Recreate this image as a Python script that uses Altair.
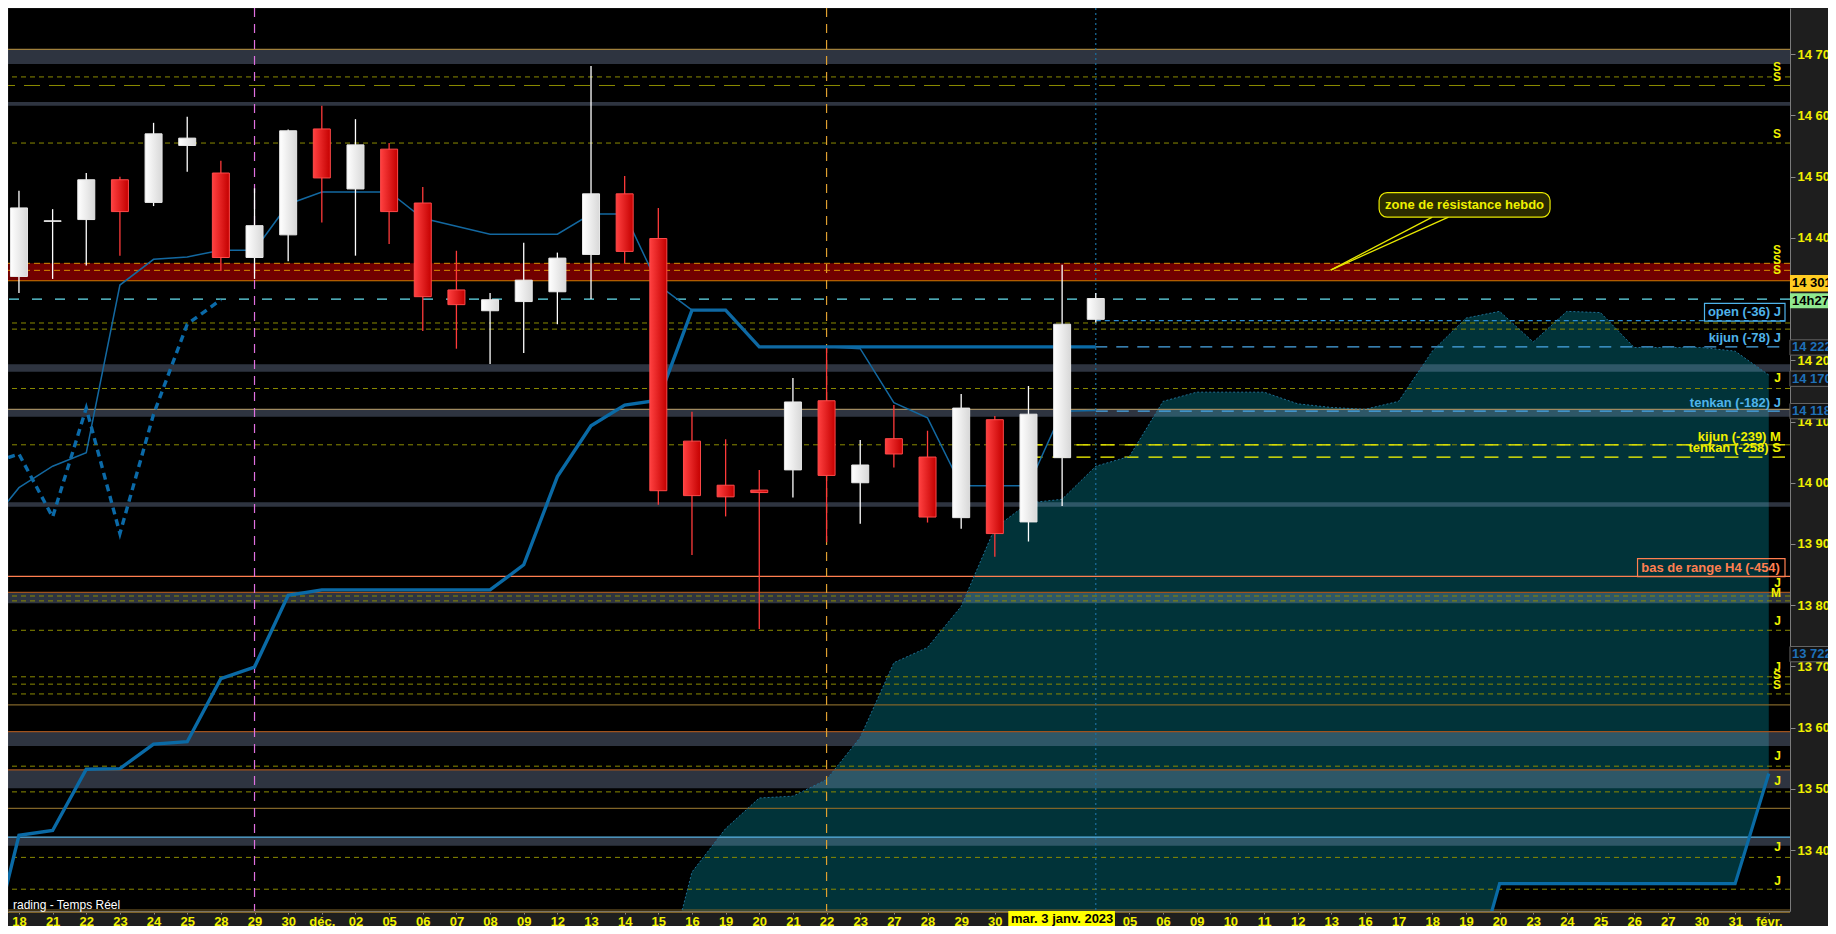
import json
import altair as alt
import pandas as pd

FONT = "Liberation Sans"

# ---------------- daily candles (index 0 = 18 nov.) ----------------
cd_open = [14337, 14427, 14430, 14495, 14458, 14551, 14506, 14368, 14405, 14578, 14480,
           14545, 14457, 14315, 14281, 14296, 14312, 14373, 14472, 14399, 14068, 13996,
           13988, 14021, 14134, 14000, 14072, 14042, 13943, 14103, 13936, 14041, 14267]
cd_high = [14477, 14447, 14506, 14500, 14588, 14598, 14526, 14481, 14577, 14616, 14594,
           14555, 14483, 14379, 14310, 14392, 14376, 14681, 14501, 14449, 14116, 14071,
           14021, 14171, 14220, 14070, 14127, 14085, 14145, 14109, 14158, 14356, 14310]
cd_low = [14310, 14333, 14355, 14371, 14452, 14508, 14346, 14333, 14362, 14425, 14371,
          14390, 14248, 14219, 14194, 14212, 14259, 14300, 14359, 13964, 13882, 13945,
          13761, 13976, 13903, 13933, 14025, 13935, 13925, 13879, 13904, 13962, 14262]
cd_close = [14449, 14428, 14495, 14443, 14570, 14563, 14368, 14420, 14575, 14498, 14552,
            14443, 14304, 14291, 14299, 14331, 14367, 14472, 14378, 13987, 13979, 13977,
            13984, 14132, 14012, 14029, 14047, 13944, 14122, 13917, 14112, 14259, 14301]

x_labels = ["18", "21", "22", "23", "24", "25", "28", "29", "30", "déc.",
            "02", "05", "06", "07", "08", "09", "12", "13", "14", "15",
            "16", "19", "20", "21", "22", "23", "27", "28", "29", "30",
            "", "", "", "05", "06", "09", "10", "11", "12", "13",
            "16", "17", "18", "19", "20", "23", "24", "25", "26", "27",
            "30", "31", "févr."]
date_box_label = "mar. 3 janv. 2023"

# ---------------- Ichimoku ----------------
line_x = list(range(-1, 33))
tenkan = [13924, 13992, 14027, 14049, 14323, 14365, 14369, 14380, 14380, 14455, 14475,
          14475, 14475, 14432, 14419, 14406, 14406, 14406, 14439, 14439, 14323, 14282,
          14282, 14222, 14222, 14222, 14219, 14131, 14106, 13995, 13995, 13995, 14117, 14118]
kijun = [13200, 13424, 13432, 13532, 13533, 13573, 13577, 13680, 13699, 13816, 13825,
         13825, 13825, 13825, 13825, 13825, 13866, 14010, 14093, 14127, 14135, 14282,
         14282, 14222, 14222, 14222, 14222, 14222, 14222, 14222, 14222, 14222, 14222, 14222]
chikou_x = list(range(-1, 7))
chikou = [14029, 14047, 13944, 14122, 13917, 14112, 14259, 14299]
cloud_x = list(range(19, 53))
senkou_up = [13150, 13364, 13435, 13485, 13488, 13515, 13584, 13706, 13731, 13798, 13926,
             13967, 13973, 14027, 14043, 14133, 14148, 14148, 14148, 14129, 14123, 14120,
             14133, 14215, 14269, 14280, 14230, 14280, 14278, 14221, 14221, 14221, 14215, 14176]
senkou_low = [13000] * 24 + [13150] + [13345] * 8 + [13525]

# ---------------- horizontal levels ----------------
band_lo = [14684, 14616, 14181.5, 14108, 13961, 13803, 13570, 13501, 13407]
band_hi = [14708, 14622, 14193.5, 14120, 13968, 13821, 13593.5, 13531, 13421]
zone_lo, zone_hi = 14330, 14358.5
solid_lvls = [14708, 14330, 14120, 13847, 13821, 13637, 13593.5, 13531, 13468, 13421, 13302, 13298]
solid_cols = ["#a0803c", "#d07a00", "#a08a60", "#ff7f50", "#a0521d", "#806428",
              "#a0521d", "#a0521d", "#806428", "#5ab4e6", "#806428", "#806428"]
olive_lvls = [14663, 14555, 14261, 14251, 14154, 14062, 13815, 13807, 13759, 13683,
              13671, 13655, 13537, 13495, 13388, 13336]
longdash_lvls = [14649]
zone_dash_lvls = [14358.5, 14347]
last_price = 14300
kijun_lvl, tenkan_lvl, open_lvl = 14222, 14117, 14265
weekly_lvls = [14062, 14042]

letter_txt = ["S", "S", "S", "S", "S", "S", "J", "J", "M", "J", "J", "S", "S", "J", "J", "J", "J"]
letter_p = [14680, 14663, 14569, 14380, 14364, 14347, 14171, 13836, 13820, 13774, 13699,
            13686, 13670, 13554, 13513, 13405, 13350]

rl_txt = ["open (-36) J", "kijun (-78) J", "tenkan (-182) J", "kijun (-239) M", "tenkan (-258) S"]
rl_p = [14279, 14237, 14130, 14075, 14056]
rl_col = ["#4fb3ea", "#4fb3ea", "#4fb3ea", "#f0f000", "#f0f000"]

ab_txt = ["14 222", "14 170", "14 118", "13 722"]
ab_p = [14221, 14170, 14117, 13720]

# ---------------- scales / axes ----------------
X0, X1 = -0.1773, 52.482
Y0, Y1 = 13300.4, 14775.6
W, H = 1782, 903
PX = 0.6121  # pixels per point

xs = alt.Scale(domain=[X0, X1], nice=False, zero=False)
ys = alt.Scale(domain=[Y0, Y1], nice=False, zero=False)

x_axis = alt.Axis(values=list(range(53)),
                  labelExpr=json.dumps(x_labels, ensure_ascii=False) + "[datum.value]",
                  labelColor="#f0f000", labelFont=FONT, labelFontWeight="bold", labelFontSize=13,
                  labelOverlap=False, labelFlush=False, tickColor="#8a8a8a", tickSize=3,
                  labelPadding=1, domainColor="#7a7a7a", grid=False)
y_axis = alt.Axis(orient="right", values=list(range(13400, 14701, 100)),
                  labelExpr="replace(format(datum.value, ','), ',', ' ')",
                  labelColor="#f0f000", labelFont=FONT, labelFontWeight="bold", labelFontSize=13,
                  labelOverlap=False, labelFlush=False, tickColor="#8a8a8a", tickSize=5,
                  labelPadding=2, domainColor="#7a7a7a", grid=False)


def X(f):
    return alt.X(f, type="quantitative", scale=xs, axis=x_axis, title=None)


def Y(f):
    return alt.Y(f, type="quantitative", scale=ys, axis=y_axis, title=None)


layers = []

# cloud
cloud_df = pd.DataFrame({"x": cloud_x, "up": senkou_up, "lo": senkou_low})
layers.append(alt.Chart(cloud_df).mark_area(color="#013339", clip=True)
              .encode(x=X("x"), y=Y("up"), y2="lo"))

# resistance zone + grey bands
layers.append(alt.Chart(pd.DataFrame({"lo": [zone_lo], "hi": [zone_hi]}))
              .mark_rect(color="#720000")
              .encode(x=alt.value(0), x2=alt.value(W), y=Y("lo"), y2="hi"))
layers.append(alt.Chart(pd.DataFrame({"lo": band_lo, "hi": band_hi}))
              .mark_rect(color="#94a8ce", opacity=0.31)
              .encode(x=alt.value(0), x2=alt.value(W), y=Y("lo"), y2="hi"))

# full-width levels
layers.append(alt.Chart(pd.DataFrame({"y": solid_lvls, "c": solid_cols}))
              .mark_rule(strokeWidth=1.2)
              .encode(y=Y("y"), color=alt.Color("c:N", scale=None)))
layers.append(alt.Chart(pd.DataFrame({"y": olive_lvls}))
              .mark_rule(color="#8a8a00", strokeWidth=1, strokeDash=[5, 4])
              .encode(y=Y("y")))
layers.append(alt.Chart(pd.DataFrame({"y": longdash_lvls}))
              .mark_rule(color="#8a8a00", strokeWidth=1, strokeDash=[16, 9])
              .encode(y=Y("y")))
layers.append(alt.Chart(pd.DataFrame({"y": zone_dash_lvls}))
              .mark_rule(color="#d98a00", strokeWidth=1, strokeDash=[6, 4])
              .encode(y=Y("y")))
layers.append(alt.Chart(pd.DataFrame({"y": [last_price]}))
              .mark_rule(color="#66e0f0", strokeWidth=1.3, strokeDash=[10, 13])
              .encode(y=Y("y")))

# partial levels (from a bar to the right edge)
layers.append(alt.Chart(pd.DataFrame({"x": [22, 32], "x2": [X1, X1], "y": [kijun_lvl, tenkan_lvl]}))
              .mark_rule(color="#4aa8e8", strokeWidth=1.3, strokeDash=[12, 9])
              .encode(x=X("x"), x2="x2", y=Y("y")))
layers.append(alt.Chart(pd.DataFrame({"x": [32], "x2": [X1], "y": [open_lvl]}))
              .mark_rule(color="#2f8fd0", strokeWidth=1.3, strokeDash=[5, 4])
              .encode(x=X("x"), x2="x2", y=Y("y")))
layers.append(alt.Chart(pd.DataFrame({"x": [30, 30], "x2": [X1, X1], "y": weekly_lvls}))
              .mark_rule(color="#ffff00", strokeWidth=1.3, strokeDash=[14, 10])
              .encode(x=X("x"), x2="x2", y=Y("y")))

# vertical markers
layers.append(alt.Chart(pd.DataFrame({"x": [7]}))
              .mark_rule(color="#e070e0", strokeWidth=1.2, strokeDash=[9, 7]).encode(x=X("x")))
layers.append(alt.Chart(pd.DataFrame({"x": [24]}))
              .mark_rule(color="#e0a030", strokeWidth=1.2, strokeDash=[9, 7]).encode(x=X("x")))
layers.append(alt.Chart(pd.DataFrame({"x": [32]}))
              .mark_rule(color="#1b6f9f", strokeWidth=1.2, strokeDash=[2, 3]).encode(x=X("x")))

# cloud edges
layers.append(alt.Chart(cloud_df).mark_line(color="#1f6f95", strokeWidth=1, strokeDash=[2, 2], clip=True)
              .encode(x=X("x"), y=Y("up")))
layers.append(alt.Chart(cloud_df).mark_line(color="#0a6ba5", strokeWidth=3.2, clip=True)
              .encode(x=X("x"), y=Y("lo")))

# ichimoku lines
lines_df = pd.DataFrame({"x": line_x, "t": tenkan, "k": kijun})
layers.append(alt.Chart(pd.DataFrame({"x": chikou_x, "y": chikou}))
              .mark_line(color="#0b6aa8", strokeWidth=3.4, strokeDash=[7, 5], clip=True)
              .encode(x=X("x"), y=Y("y")))
layers.append(alt.Chart(lines_df).mark_line(color="#0a6aa6", strokeWidth=3.4, clip=True)
              .encode(x=X("x"), y=Y("k")))
layers.append(alt.Chart(lines_df).mark_line(color="#1368a0", strokeWidth=1.5, clip=True)
              .encode(x=X("x"), y=Y("t")))

# candles
cdf = pd.DataFrame({"i": list(range(len(cd_open))), "o": cd_open, "h": cd_high, "l": cd_low, "c": cd_close})
up = cdf[cdf.c >= cdf.o]
dn = cdf[cdf.c < cdf.o]
white_grad = alt.LinearGradient(gradient="linear", x1=0, x2=1, y1=0, y2=0,
                                stops=[alt.GradientStop(color="#ffffff", offset=0),
                                       alt.GradientStop(color="#d8d8d8", offset=1)])
red_grad = alt.LinearGradient(gradient="linear", x1=0, x2=1, y1=0, y2=0,
                              stops=[alt.GradientStop(color="#ff4040", offset=0),
                                     alt.GradientStop(color="#c40000", offset=1)])
layers.append(alt.Chart(up).mark_rule(color="#ffffff", strokeWidth=1.3)
              .encode(x=X("i"), y=Y("l"), y2="h"))
layers.append(alt.Chart(dn).mark_rule(color="#ff3a3a", strokeWidth=1.3)
              .encode(x=X("i"), y=Y("l"), y2="h"))
layers.append(alt.Chart(up).mark_bar(size=17, fill=white_grad, stroke="#e8e8e8", strokeWidth=1)
              .encode(x=X("i"), y=Y("o"), y2="c"))
layers.append(alt.Chart(dn).mark_bar(size=17, fill=red_grad, stroke="#ff4a4a", strokeWidth=1)
              .encode(x=X("i"), y=Y("o"), y2="c"))

# letters at right edge
layers.append(alt.Chart(pd.DataFrame({"x": [52.36] * len(letter_txt), "y": letter_p, "t": letter_txt}))
              .mark_text(align="right", baseline="middle", font=FONT, fontWeight="bold",
                         fontSize=12, color="#f0f000")
              .encode(x=X("x"), y=Y("y"), text="t:N"))

# boxed labels
layers.append(alt.Chart(pd.DataFrame({"x": [50.09], "x2": [X1], "y": [14264], "y2": [14293]}))
              .mark_rect(fillOpacity=0, stroke="#4fb3ea", strokeWidth=1.2)
              .encode(x=X("x"), x2="x2", y=Y("y"), y2="y2"))
layers.append(alt.Chart(pd.DataFrame({"x": [48.1], "x2": [X1], "y": [13846.5], "y2": [13876]}))
              .mark_rect(fillOpacity=0, stroke="#ff7f50", strokeWidth=1.2)
              .encode(x=X("x"), x2="x2", y=Y("y"), y2="y2"))
layers.append(alt.Chart(pd.DataFrame({"x": [52.36] * len(rl_txt), "y": rl_p, "t": rl_txt, "c": rl_col}))
              .mark_text(align="right", baseline="middle", font=FONT, fontWeight="bold", fontSize=13)
              .encode(x=X("x"), y=Y("y"), text="t:N", color=alt.Color("c:N", scale=None)))
layers.append(alt.Chart(pd.DataFrame({"x": [50.27], "y": [13861], "t": ["bas de range H4 (-454)"]}))
              .mark_text(align="center", baseline="middle", font=FONT, fontWeight="bold",
                         fontSize=13, color="#ff7f50")
              .encode(x=X("x"), y=Y("y"), text="t:N"))

# callout "zone de résistance hebdo"
tip_x, tip_y = 38.98, 14347.5
layers.append(alt.Chart(pd.DataFrame({"x": [42.0, 42.48], "y": [14434, 14434],
                                      "x2": [tip_x, tip_x], "y2": [tip_y, tip_y]}))
              .mark_rule(color="#e8e800", strokeWidth=1.3)
              .encode(x=X("x"), y=Y("y"), x2="x2", y2="y2"))
layers.append(alt.Chart(pd.DataFrame({"x": [40.42], "x2": [45.5], "y": [14434], "y2": [14474]}))
              .mark_rect(cornerRadius=8, fill="#2b2b00", stroke="#e8e800", strokeWidth=1.2)
              .encode(x=X("x"), x2="x2", y=Y("y"), y2="y2"))
layers.append(alt.Chart(pd.DataFrame({"x": [42.96], "y": [14454], "t": ["zone de résistance hebdo"]}))
              .mark_text(align="center", baseline="middle", font=FONT, fontWeight="bold",
                         fontSize=13, color="#f0f000")
              .encode(x=X("x"), y=Y("y"), text="t:N"))

# bottom-left caption
layers.append(alt.Chart(pd.DataFrame({"x": [X0], "y": [13310], "t": ["rading - Temps Réel"]}))
              .mark_text(align="left", baseline="middle", font=FONT, fontSize=12, color="#ffffff")
              .encode(x=X("x"), y=Y("y"), text="t:N"))

# crosshair date box on the time axis
layers.append(alt.Chart(pd.DataFrame({"x": [29.4], "x2": [32.57], "y": [Y0], "y2": [Y0 - 15 / PX]}))
              .mark_rect(color="#ffff00")
              .encode(x=X("x"), x2="x2", y=Y("y"), y2="y2"))
layers.append(alt.Chart(pd.DataFrame({"x": [31], "y": [Y0 - 8 / PX], "t": [date_box_label]}))
              .mark_text(align="center", baseline="middle", font=FONT, fontWeight="bold",
                         fontSize=13, color="#000000")
              .encode(x=X("x"), y=Y("y"), text="t:N"))

# price boxes on the price axis
bx0, bx1 = 52.63, 53.95
layers.append(alt.Chart(pd.DataFrame({"x": [bx0], "x2": [bx1], "y": [14312.3], "y2": [14339.6]}))
              .mark_rect(color="#ffcc22").encode(x=X("x"), x2="x2", y=Y("y"), y2="y2"))
layers.append(alt.Chart(pd.DataFrame({"x": [bx0], "x2": [bx1], "y": [14285], "y2": [14309.5]}))
              .mark_rect(color="#90e890").encode(x=X("x"), x2="x2", y=Y("y"), y2="y2"))
layers.append(alt.Chart(pd.DataFrame({"x": [52.69, 52.69], "y": [14326, 14297], "t": ["14 301", "14h27m"]}))
              .mark_text(align="left", baseline="middle", font=FONT, fontWeight="bold",
                         fontSize=13, color="#000000")
              .encode(x=X("x"), y=Y("y"), text="t:N"))
ab_df = pd.DataFrame({"x": [bx0] * 4, "x2": [bx1] * 4, "y": [p - 12.5 for p in ab_p],
                      "y2": [p + 12.5 for p in ab_p], "yc": ab_p, "xt": [52.69] * 4, "t": ab_txt})
layers.append(alt.Chart(ab_df).mark_rect(color="#121212", stroke="#666666", strokeWidth=1)
              .encode(x=X("x"), x2="x2", y=Y("y"), y2="y2"))
layers.append(alt.Chart(ab_df).mark_text(align="left", baseline="middle", font=FONT, fontWeight="bold",
                                         fontSize=13, color="#1f70b8")
              .encode(x=X("xt"), y=Y("yc"), text="t:N"))

chart = (alt.layer(*layers)
         .properties(width=W, height=H, background="#1e1e1e",
                     padding={"left": 0, "top": 0, "right": 38, "bottom": 15},
                     autosize=alt.AutoSizeParams(type="none"))
         .configure_view(fill="#000000", stroke="transparent"))

chart.save("out.html", embed_options={"renderer": "svg", "actions": False})
